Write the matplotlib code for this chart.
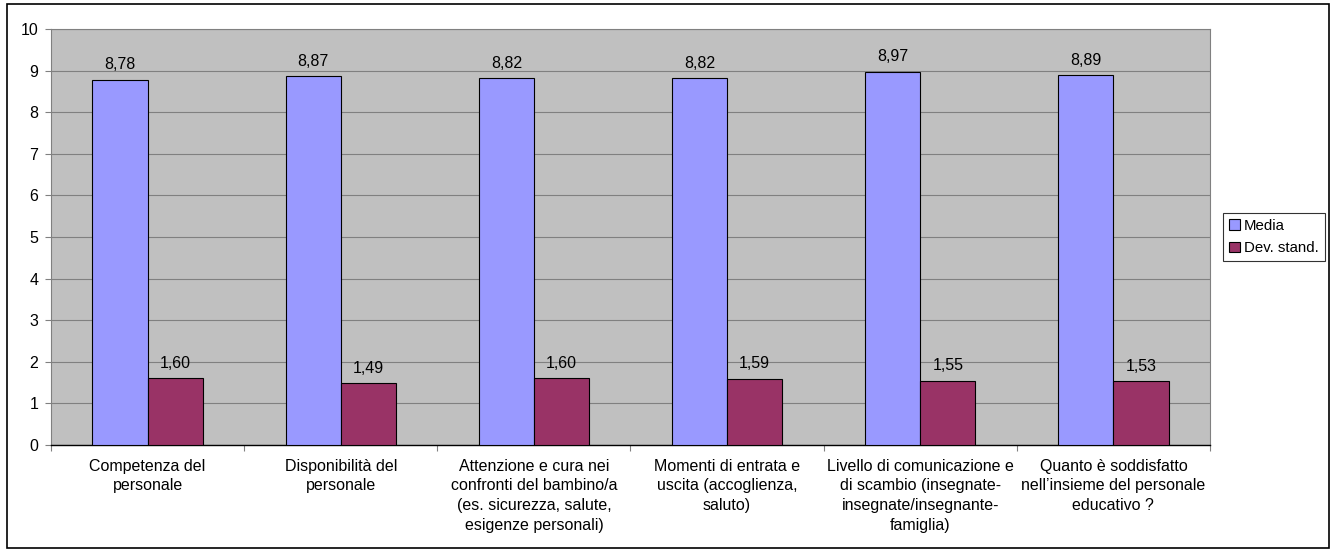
import numpy as np
import matplotlib.pyplot as plt
from matplotlib.patches import Rectangle

plt.rcParams['font.family'] = ['Liberation Sans', 'DejaVu Sans']

categories = [
    "Competenza del\npersonale",
    "Disponibilità del\npersonale",
    "Attenzione e cura nei\nconfronti del bambino/a\n(es. sicurezza, salute,\nesigenze personali)",
    "Momenti di entrata e\nuscita (accoglienza,\nsaluto)",
    "Livello di comunicazione e\ndi scambio (insegnate-\ninsegnate/insegnante-\nfamiglia)",
    "Quanto è soddisfatto\nnell’insieme del personale\neducativo ?",
]
media = [8.78, 8.87, 8.82, 8.82, 8.97, 8.89]
dev_stand = [1.60, 1.49, 1.60, 1.59, 1.55, 1.53]

FS = 11.5

fig = plt.figure(figsize=(13.32, 5.5), dpi=100)
ax = fig.add_axes([51 / 1332, 1 - 445 / 550, (1210 - 51) / 1332, (445 - 29) / 550])

x = np.arange(len(categories))
w = 1 / 3.5
b1 = ax.bar(x - w / 2, media, w, color='#9999FF', edgecolor='black', linewidth=0.8, label='Media', zorder=3)
b2 = ax.bar(x + w / 2, dev_stand, w, color='#993366', edgecolor='black', linewidth=0.8, label='Dev. stand.', zorder=3)

for bars in (b1, b2):
    for r in bars:
        v = r.get_height()
        ax.text(r.get_x() + r.get_width() / 2, v + 0.18, f"{v:.2f}".replace('.', ','),
                ha='center', va='bottom', fontsize=FS)

ax.set_facecolor('#C0C0C0')
ax.set_xlim(-0.5, len(categories) - 0.5)
ax.set_ylim(0, 10)
ax.set_yticks(range(0, 11))
ax.yaxis.grid(True, color='#808080', linewidth=0.8, zorder=0)
ax.set_axisbelow(True)

ax.set_xticks(np.arange(-0.5, len(categories), 1))
ax.set_xticklabels([])
ax.set_xticks(x, minor=True)
ax.set_xticklabels(categories, minor=True, fontsize=FS, linespacing=1.38)
ax.tick_params(axis='x', which='minor', length=0, pad=10)
ax.tick_params(axis='x', which='major', direction='out', length=4, color='#808080')
ax.tick_params(axis='y', direction='out', length=4, labelsize=FS, color='#808080', pad=5)

for s in ('top', 'right'):
    ax.spines[s].set_color('#808080')
ax.spines['left'].set_color('#808080')
ax.spines['bottom'].set_color('black')
ax.spines['bottom'].set_linewidth(1.0)

leg = fig.legend(handles=[b1, b2], loc='upper left', bbox_to_anchor=(1223 / 1332, 1 - 213 / 550),
                 frameon=True, fancybox=False, edgecolor='black', fontsize=10.8,
                 handlelength=0.7, handleheight=0.7, handletextpad=0.3, borderpad=0.4,
                 labelspacing=0.55, borderaxespad=0)
leg.get_frame().set_linewidth(0.8)

fig.patches.append(Rectangle((7 / 1332, 2 / 550), 1322 / 1332, 1 - 6 / 550, transform=fig.transFigure,
                             fill=False, edgecolor='black', linewidth=1.2))

fig.savefig('out.png', dpi=100)
